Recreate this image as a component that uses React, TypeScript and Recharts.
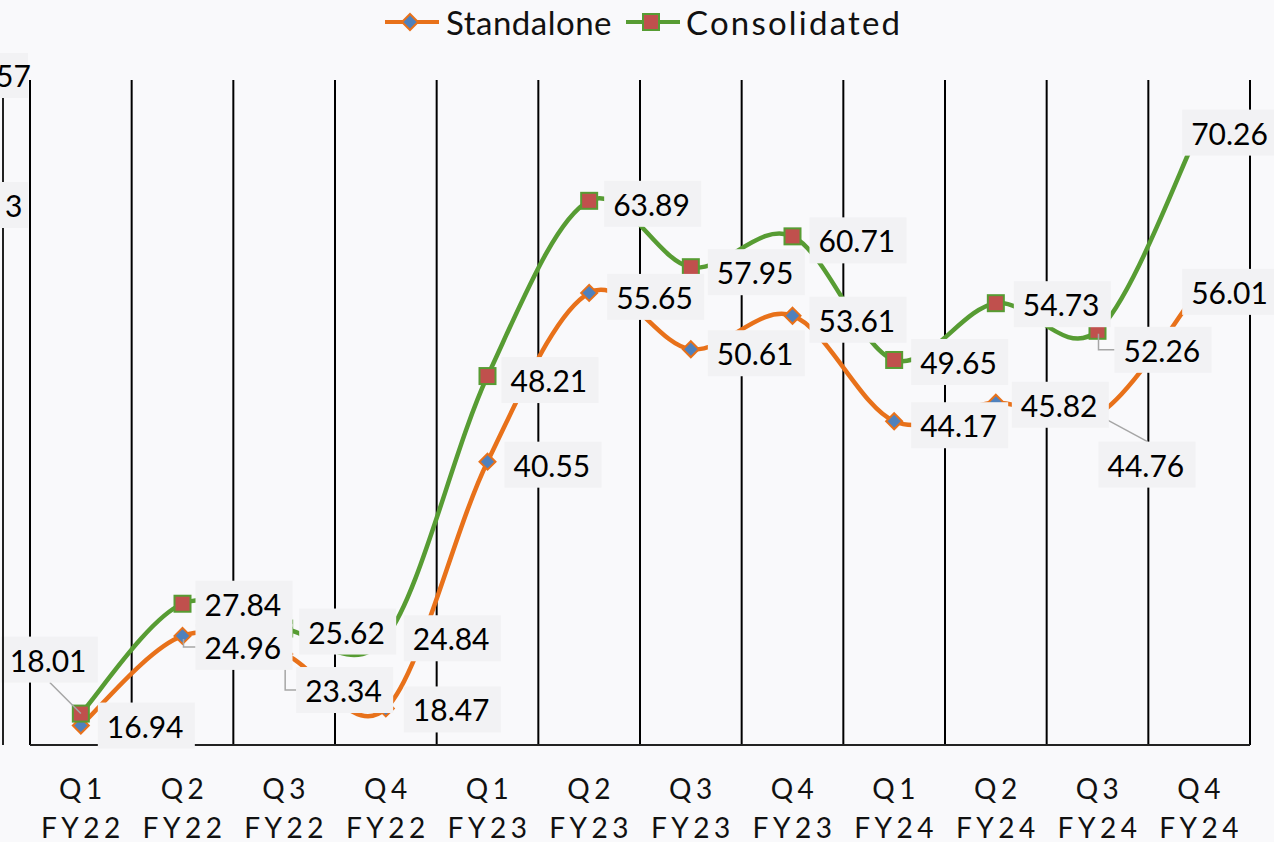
import React from 'react';
import { LineChart, Line, XAxis, YAxis, CartesianGrid, Legend, LabelList } from 'recharts';

const categories = ['Q1 FY22', 'Q2 FY22', 'Q3 FY22', 'Q4 FY22', 'Q1 FY23', 'Q2 FY23', 'Q3 FY23', 'Q4 FY23', 'Q1 FY24', 'Q2 FY24', 'Q3 FY24', 'Q4 FY24'];
const standalone = [16.94, 24.96, 23.34, 18.47, 40.55, 55.65, 50.61, 53.61, 44.17, 45.82, 44.76, 56.01];
const consolidated = [18.01, 27.84, 25.62, 24.84, 48.21, 63.89, 57.95, 60.71, 49.65, 54.73, 52.26, 70.26];

const data = categories.map((c, i) => ({ name: c, standalone: standalone[i], consolidated: consolidated[i] }));

const ORANGE = '#e8711a';
const GREEN = '#579c33';
const BG = '#f9f9fb';
const BOX = '#f2f2f4';
const FONT = 'Lato, "Noto Sans", sans-serif';

// label nudges [dx, dy] from the point to the text start / middle (Excel labels were moved by hand)
const NUDGE_S = [[26, 0], [22, 11], [21, 36], [27, 1], [26, 3], [27, 4], [26, 4], [26, 4], [26, 4], [25, 2], [10, 50], [-8, 3]];
const NUDGE_C = [[-71, -54], [22, 0], [24, 3], [27, 1], [23, 4], [24, 3], [26, 5], [26, 4], [26, 2], [27, 1], [26, 19], [-8, 3]];
// leader lines: 'elbow' = down then right into the box, 'up' / 'down' = straight to box edge
const LEADER_S: Record<number, string> = { 1: 'elbow', 2: 'elbow', 10: 'down' };
const LEADER_C: Record<number, string> = { 0: 'up', 10: 'elbow' };

const BOX_W = 97;
const BOX_H = 46;

// Excel style smoothing (cardinal bezier, 1/6 of the neighbour span)
const excelSmooth = (context: any) => {
  let pts: number[][] = [];
  return {
    areaStart() {},
    areaEnd() {},
    lineStart() {
      pts = [];
    },
    lineEnd() {
      const n = pts.length;
      if (!n) return;
      context.moveTo(pts[0][0], pts[0][1]);
      for (let i = 0; i < n - 1; i++) {
        const p0 = pts[Math.max(i - 1, 0)];
        const p1 = pts[i];
        const p2 = pts[i + 1];
        const p3 = pts[Math.min(i + 2, n - 1)];
        context.bezierCurveTo(
          p1[0] + (p2[0] - p0[0]) / 6,
          p1[1] + (p2[1] - p0[1]) / 6,
          p2[0] - (p3[0] - p1[0]) / 6,
          p2[1] - (p3[1] - p1[1]) / 6,
          p2[0],
          p2[1]
        );
      }
    },
    point(x: number, y: number) {
      pts.push([+x, +y]);
    },
  };
};

const Diamond = ({ cx, cy, s = 8 }: any) => (
  <path d={`M${cx},${cy - s}L${cx + s},${cy}L${cx},${cy + s}L${cx - s},${cy}Z`} fill="#4f81bd" stroke={ORANGE} strokeWidth={2} />
);
const Square = ({ cx, cy, s = 8 }: any) => (
  <rect x={cx - s} y={cy - s} width={s * 2} height={s * 2} fill="#c0504d" stroke={GREEN} strokeWidth={2} />
);

const renderDiamond = (p: any) => <Diamond key={p.key ?? `d-${p.index}`} cx={p.cx} cy={p.cy} />;
const renderSquare = (p: any) => <Square key={p.key ?? `s-${p.index}`} cx={p.cx} cy={p.cy} />;

const pointOf = (props: any) => {
  const x = props.x ?? props.viewBox?.x;
  const y = props.y ?? props.viewBox?.y;
  return [Number(x), Number(y)];
};

const makeLabel = (nudges: number[][]) => (props: any) => {
  const [x, y] = pointOf(props);
  const [dx, dy] = nudges[props.index] || [26, 3];
  const tx = x + dx;
  const ty = y + dy;
  return (
    <g>
      <rect x={tx - 9} y={ty - BOX_H / 2} width={BOX_W} height={BOX_H} fill={BOX} />
      <text x={tx} y={ty} dominantBaseline="central" fontFamily={FONT} fontSize={30} fill="#000">
        {Number(props.value).toFixed(2)}
      </text>
    </g>
  );
};

const makeLeader = (nudges: number[][], leaders: Record<number, string>) => (props: any) => {
  const kind = leaders[props.index];
  if (!kind) return null;
  const [x, y] = pointOf(props);
  const [dx, dy] = nudges[props.index];
  const tx = x + dx;
  const ty = y + dy;
  let d = '';
  if (kind === 'elbow') d = `M${x + 1},${y + 3}V${ty}H${tx - 9}`;
  if (kind === 'up') d = `M${x},${y}L${tx + 40},${ty + BOX_H / 2}`;
  if (kind === 'down') d = `M${x},${y}L${tx + 40},${ty - BOX_H / 2}`;
  return <path d={d} fill="none" stroke="#a6a6a6" strokeWidth={1.5} />;
};

const CategoryTick = ({ x, y, payload }: any) => {
  const [q, fy] = String(payload.value).split(' ');
  return (
    <text textAnchor="middle" fontFamily={FONT} fontSize={28} letterSpacing={4.5} fill="#111">
      <tspan x={x + 2} y={y + 43} dominantBaseline="central">{q}</tspan>
      <tspan x={x + 2} y={y + 82} dominantBaseline="central">{fy}</tspan>
    </text>
  );
};

const LegendBox = () => (
  <div style={{ height: 80, display: 'flex', justifyContent: 'flex-start', alignItems: 'flex-start', fontFamily: FONT, fontSize: 33, letterSpacing: 0.5, color: '#111', paddingLeft: 353 }}>
    <div style={{ display: 'flex', alignItems: 'center', height: 44, width: 241 }}>
      <svg width={58} height={24}>
        <line x1={2} y1={12} x2={56} y2={12} stroke={ORANGE} strokeWidth={4} />
        <Diamond cx={27} cy={12} s={8} />
      </svg>
      <span style={{ marginLeft: 5 }}>Standalone</span>
    </div>
    <div style={{ display: 'flex', alignItems: 'center', height: 44 }}>
      <svg width={58} height={24}>
        <line x1={2} y1={12} x2={56} y2={12} stroke={GREEN} strokeWidth={4} />
        <Square cx={27} cy={12} s={8} />
      </svg>
      <span style={{ marginLeft: 4, letterSpacing: 2.2 }}>Consolidated</span>
    </div>
  </div>
);

export default function App() {
  return (
    <div style={{ position: 'absolute', left: 0, top: 0, width: 1274, height: 842, background: BG, overflow: 'hidden' }}>
      <LineChart width={1274} height={842} data={data} margin={{ top: 0, right: 24, left: 30, bottom: 0 }}>
        <CartesianGrid
          horizontal={false}
          stroke="#000"
          strokeWidth={2}
          verticalCoordinatesGenerator={({ offset }: any) =>
            categories.concat(['']).map((_, i) => offset.left + (offset.width * i) / categories.length)
          }
        />
        <XAxis
          dataKey="name"
          scale="band"
          interval={0}
          tickLine={false}
          tickSize={0}
          tickMargin={0}
          height={97}
          axisLine={{ stroke: '#222', strokeWidth: 2 }}
          tick={<CategoryTick />}
        />
        <YAxis hide type="number" domain={[15.2, 74.7]} />
        <Legend verticalAlign="top" content={<LegendBox />} />
        <Line
          dataKey="standalone"
          name="Standalone"
          type={excelSmooth as any}
          stroke={ORANGE}
          strokeWidth={4.5}
          dot={renderDiamond}
          activeDot={false}
          isAnimationActive={false}
        />
        <Line
          dataKey="consolidated"
          name="Consolidated"
          type={excelSmooth as any}
          stroke={GREEN}
          strokeWidth={4.5}
          dot={renderSquare}
          activeDot={false}
          isAnimationActive={false}
        />
        <Line dataKey="standalone" stroke="none" dot={false} activeDot={false} legendType="none" isAnimationActive={false}>
          <LabelList dataKey="standalone" content={makeLeader(NUDGE_S, LEADER_S)} />
        </Line>
        <Line dataKey="consolidated" stroke="none" dot={false} activeDot={false} legendType="none" isAnimationActive={false}>
          <LabelList dataKey="consolidated" content={makeLeader(NUDGE_C, LEADER_C)} />
        </Line>
        <Line dataKey="standalone" stroke="none" dot={false} activeDot={false} legendType="none" isAnimationActive={false}>
          <LabelList dataKey="standalone" content={makeLabel(NUDGE_S)} />
        </Line>
        <Line dataKey="consolidated" stroke="none" dot={false} activeDot={false} legendType="none" isAnimationActive={false}>
          <LabelList dataKey="consolidated" content={makeLabel(NUDGE_C)} />
        </Line>
      </LineChart>
      {/* cut-off remnants at the left edge of the original crop */}
      <div style={{ position: 'absolute', left: 2, top: 80, width: 2, height: 665, background: '#222' }} />
      <div style={{ position: 'absolute', left: 0, top: 53, width: 28, height: 45, background: BOX }} />
      <div style={{ position: 'absolute', left: -4, top: 53, height: 45, lineHeight: '45px', fontFamily: FONT, fontSize: 30 }}>57</div>
      <div style={{ position: 'absolute', left: 0, top: 182, width: 28, height: 46, background: BOX }} />
      <div style={{ position: 'absolute', left: 5, top: 182, height: 46, lineHeight: '46px', fontFamily: FONT, fontSize: 30 }}>3</div>
    </div>
  );
}
